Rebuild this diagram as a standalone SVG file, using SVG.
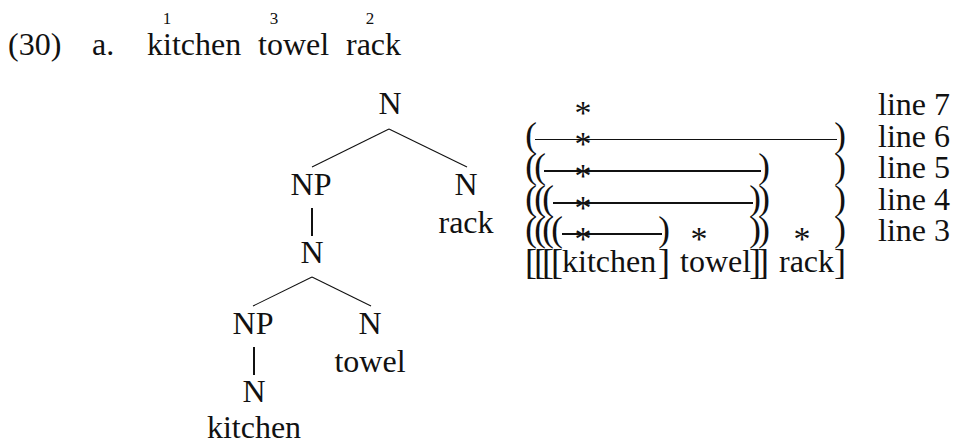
<svg xmlns="http://www.w3.org/2000/svg" width="956" height="445" viewBox="0 0 956 445">
  <style>
    text { font-family: "Liberation Serif", "Times New Roman", serif; font-size: 32px; fill: #111; }
    .c { text-anchor: middle; }
    .sup { font-size: 17px; text-anchor: middle; }
    .par { font-size: 35px; text-anchor: middle; }
    .brk { font-size: 36px; text-anchor: middle; }
    .star { font-size: 34px; text-anchor: middle; }
    .edge { stroke: #111; stroke-width: 1.1; fill: none; }
    .unary { stroke: #111; stroke-width: 2; fill: none; }
    .grid { stroke: #111; fill: none; }
  </style>

  <!-- example header -->
  <g id="header">
    <text x="8" y="55">(30)</text>
    <text x="92" y="55">a.</text>
    <text x="147" y="55">kitchen</text>
    <text x="258" y="55">towel</text>
    <text x="346" y="55">rack</text>
    <text class="sup" x="167" y="24">1</text>
    <text class="sup" x="274" y="24">3</text>
    <text class="sup" x="370" y="24">2</text>
  </g>

  <!-- tree connectors -->
  <g id="connectors">
    <line class="edge" x1="389" y1="129" x2="312" y2="167"/>
    <line class="edge" x1="389" y1="129" x2="467" y2="167"/>
    <line class="unary" x1="312" y1="208" x2="312" y2="236"/>
    <line class="edge" x1="312" y1="277" x2="253" y2="306"/>
    <line class="edge" x1="312" y1="277" x2="371" y2="306"/>
    <line class="unary" x1="254" y1="347" x2="254" y2="375"/>
  </g>

  <!-- tree nodes -->
  <g id="n-root"><text class="c" x="390" y="114">N</text></g>
  <g id="np-upper"><text class="c" x="311" y="195">NP</text></g>
  <g id="n-rack"><text class="c" x="466" y="195">N</text></g>
  <g id="w-rack"><text class="c" x="466" y="233">rack</text></g>
  <g id="n-mid"><text class="c" x="312" y="263">N</text></g>
  <g id="np-lower"><text class="c" x="253" y="334">NP</text></g>
  <g id="n-towel"><text class="c" x="370" y="334">N</text></g>
  <g id="w-towel"><text class="c" x="370" y="372">towel</text></g>
  <g id="n-kitchen"><text class="c" x="254" y="402">N</text></g>
  <g id="w-kitchen"><text class="c" x="254" y="438">kitchen</text></g>

  <!-- metrical grid -->
  <g id="grid">
    <!-- grid lines -->
    <line class="grid" stroke-width="1.2" x1="535" y1="139.5" x2="837" y2="139.5"/>
    <line class="grid" stroke-width="1.8" x1="544" y1="171" x2="761" y2="171"/>
    <line class="grid" stroke-width="1.8" x1="553" y1="203" x2="753" y2="203"/>
    <line class="grid" stroke-width="1.8" x1="562" y1="234" x2="662" y2="234"/>

    <!-- stars -->
    <text class="star" x="583" y="124">*</text>
    <text class="star" x="583" y="155">*</text>
    <text class="star" x="583" y="187">*</text>
    <text class="star" x="583" y="219">*</text>
    <text class="star" x="583" y="250">*</text>
    <text class="star" x="699" y="250">*</text>
    <text class="star" x="802" y="250">*</text>

    <!-- line 6 -->
    <text class="par" x="531" y="147">(</text>
    <text class="par" x="840" y="147">)</text>
    <!-- line 5 -->
    <text class="par" x="531" y="178">(</text>
    <text class="par" x="540" y="178">(</text>
    <text class="par" x="764" y="178">)</text>
    <text class="par" x="840" y="178">)</text>
    <!-- line 4 -->
    <text class="par" x="531" y="210">(</text>
    <text class="par" x="540" y="210">(</text>
    <text class="par" x="548" y="210">(</text>
    <text class="par" x="755" y="210">)</text>
    <text class="par" x="764" y="210">)</text>
    <text class="par" x="840" y="210">)</text>
    <!-- line 3 -->
    <text class="par" x="531" y="241">(</text>
    <text class="par" x="540" y="241">(</text>
    <text class="par" x="548" y="241">(</text>
    <text class="par" x="557" y="241">(</text>
    <text class="par" x="664" y="241">)</text>
    <text class="par" x="755" y="241">)</text>
    <text class="par" x="764" y="241">)</text>
    <text class="par" x="840" y="241">)</text>

    <!-- bracketed string -->
    <text class="brk" x="531" y="274">[</text>
    <text class="brk" x="540" y="274">[</text>
    <text class="brk" x="548" y="274">[</text>
    <text class="brk" x="557" y="274">[</text>
    <text x="562" y="272">kitchen</text>
    <text class="brk" x="664" y="274">]</text>
    <text x="680" y="272">towel</text>
    <text class="brk" x="755" y="274">]</text>
    <text class="brk" x="763" y="274">]</text>
    <text x="779" y="272">rack</text>
    <text class="brk" x="840" y="274">]</text>
  </g>

  <!-- row labels -->
  <g id="labels">
    <text x="878" y="115">line 7</text>
    <text x="878" y="147">line 6</text>
    <text x="878" y="178">line 5</text>
    <text x="878" y="210">line 4</text>
    <text x="878" y="241">line 3</text>
  </g>
</svg>
